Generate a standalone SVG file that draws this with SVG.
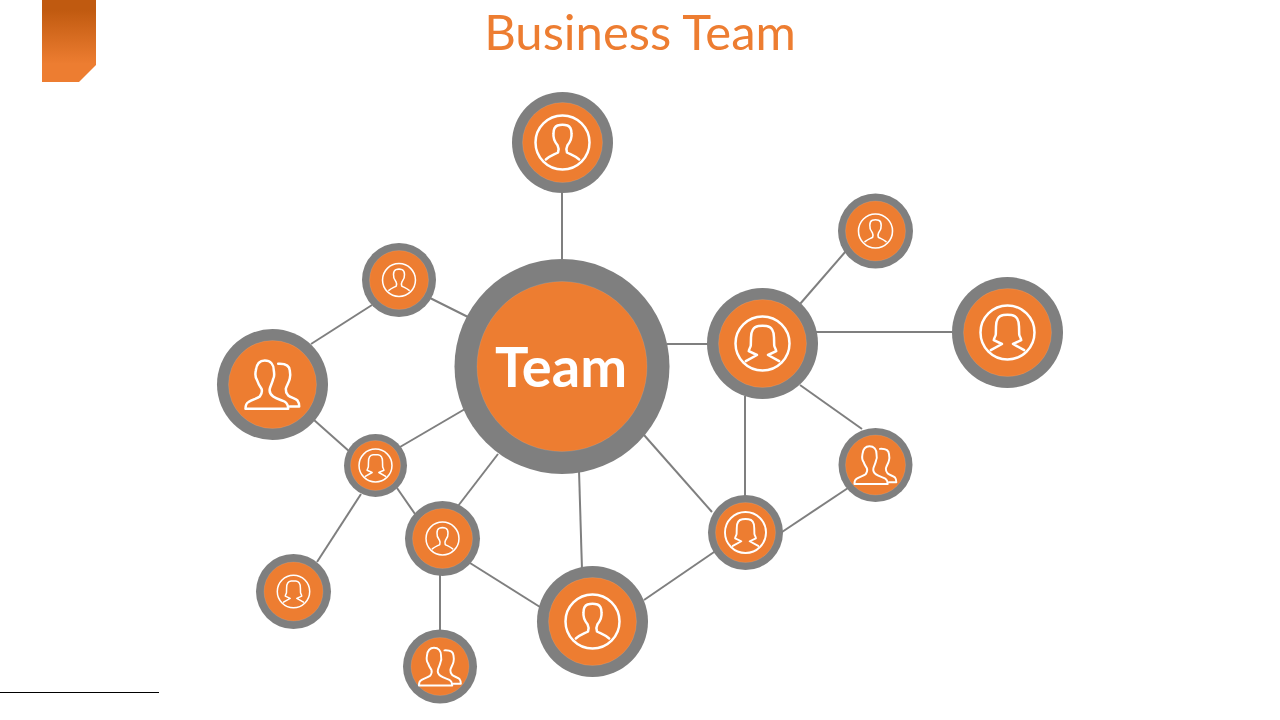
<svg xmlns="http://www.w3.org/2000/svg" width="1280" height="720" viewBox="0 0 1280 720">
<style>
.ring{fill:#7f7f7f}
.core{fill:#ed7d31;stroke:#fff;stroke-opacity:.2;stroke-width:.5}
.ic{fill:none;stroke:#fff;stroke-width:2.5;stroke-linejoin:round;stroke-linecap:round}
#connectors line{stroke:#7f7f7f;stroke-width:2}
text{font-family:"Lato","Noto Sans",sans-serif}
</style>
<defs>
<linearGradient id="rib" x1="0" y1="0" x2="0" y2="1"><stop offset="0.12" stop-color="#c05a10"/><stop offset="0.78" stop-color="#ed7d31"/></linearGradient>
<g id="male"><circle r="27"/><path d="M-16.7 17C-12 13-8 12-4.5 10C-3.5 7-3.8 5-5 2.7C-8 -1-9.5 -5-9 -9C-9 -14-7.5 -16-5 -17C-2 -18 2 -18 5 -17C7.5 -16 9 -14 9 -9C9.5 -5 8 -1 5 2.7C3.8 5 3.5 7 4.5 10C8 12 12 13 16.7 17"/></g>
<g id="female"><circle r="27"/><path d="M-16.7 17.7L-5.5 11.5L-13.7 7.7C-13.5 5-11.8 4-11.7 1.7L-11.5 -6C-11.5 -12-9 -17-4 -17.5C-2 -17.7 2 -17.7 4 -17.5C9 -17 11.5 -12 11.5 -6L11.7 1.7C11.8 4 13.5 5 13.7 7.7L5.5 11.5L16.7 17.7"/></g>
<g id="group"><path d="M-27 24.3C-27 20-26 18.5-24 17.5C-20 15-15 14-12.7 12C-10.5 9-10 7-11 4.3C-14 0-15 -3-15.3 -4C-17.5 -7-17.5 -10-16.7 -14C-16 -20-13 -24-7.7 -24C-2 -24 1.3 -20 1.3 -14C2 -10 1.5 -7 .7 -5.7C0 -2-2 1-2.7 4.3C-3.5 8-2 10 .7 12C4 14.5 9 15.5 12 17C14.5 18.5 15.7 20 15.7 24.3Z"/><path d="M5.7 -20.7C12 -21 17 -19 17.3 -14C18 -10 18 -8 17.3 -6C16.5 -2 14 1 13.3 4.3C13 7 14 9 15.7 11C18 13 23 14 25 16C26.5 18 26.7 20 26.7 22H17.3"/></g>
</defs>
<path d="M42 0H96V65L79 82H42Z" fill="url(#rib)"/>
<text x="640" y="50" font-size="49" fill="#ed7d31" text-anchor="middle">Business Team</text>
<line x1="0" y1="692.5" x2="159" y2="692.5" stroke="#000" stroke-width="1"/>
<g id="connectors">
<line x1="562" y1="190" x2="562" y2="262"/>
<line x1="430" y1="298" x2="468" y2="317"/>
<line x1="311" y1="344" x2="372" y2="305"/>
<line x1="314" y1="420" x2="350" y2="452"/>
<line x1="400" y1="447" x2="465" y2="409"/>
<line x1="397" y1="488" x2="415" y2="514"/>
<line x1="361" y1="494" x2="317" y2="562"/>
<line x1="458" y1="506" x2="498" y2="454"/>
<line x1="470" y1="563" x2="540" y2="607"/>
<line x1="440" y1="575" x2="440" y2="632"/>
<line x1="579" y1="470" x2="582" y2="570"/>
<line x1="644" y1="435" x2="712" y2="512"/>
<line x1="644" y1="600" x2="717" y2="550"/>
<line x1="667" y1="344" x2="708" y2="344"/>
<line x1="745" y1="396" x2="745" y2="497"/>
<line x1="800" y1="304" x2="846" y2="251"/>
<line x1="815" y1="332" x2="952" y2="332"/>
<line x1="800" y1="385" x2="862" y2="429"/>
<line x1="782" y1="532" x2="848" y2="488"/>
</g>
<g id="n-center"><circle class="ring" cx="562" cy="366.5" r="107.5"/><circle class="core" cx="562" cy="366.5" r="85"/><text x="561" y="387" font-size="56" font-weight="700" fill="#fff" text-anchor="middle">Team</text></g>
<g id="n-top"><circle class="ring" cx="562.5" cy="142.5" r="50.5"/><circle class="core" cx="562.5" cy="142.5" r="40"/><use href="#male" class="ic" transform="translate(562.5 142.5)"/></g>
<g id="n-r1"><circle class="ring" cx="762.5" cy="343.5" r="55.5"/><circle class="core" cx="762.5" cy="343.5" r="44"/><use href="#female" class="ic" transform="translate(762.5 343.5)"/></g>
<g id="n-r2"><circle class="ring" cx="1007.5" cy="332.5" r="55.5"/><circle class="core" cx="1007.5" cy="332.5" r="44"/><use href="#female" class="ic" transform="translate(1007.5 332.5)"/></g>
<g id="n-r3"><circle class="ring" cx="875.5" cy="231" r="37.5"/><circle class="core" cx="875.5" cy="231" r="30"/><use href="#male" class="ic" transform="translate(875.5 231) scale(.63)"/></g>
<g id="n-r4"><circle class="ring" cx="875.5" cy="465" r="37"/><circle class="core" cx="875.5" cy="465" r="30"/><use href="#group" class="ic" transform="translate(875.5 465) scale(.78)"/></g>
<g id="n-r5"><circle class="ring" cx="745.5" cy="532.5" r="37.5"/><circle class="core" cx="745.5" cy="532.5" r="30"/><use href="#female" class="ic" transform="translate(745.5 532.5) scale(.76)"/></g>
<g id="n-b1"><circle class="ring" cx="592.5" cy="621.5" r="55.5"/><circle class="core" cx="592.5" cy="621.5" r="44"/><use href="#male" class="ic" transform="translate(592.5 621.5)"/></g>
<g id="n-b2"><circle class="ring" cx="442.5" cy="538.5" r="37.5"/><circle class="core" cx="442.5" cy="538.5" r="30"/><use href="#male" class="ic" transform="translate(442.5 538.5) scale(.61)"/></g>
<g id="n-b3"><circle class="ring" cx="375.5" cy="465.5" r="31.5"/><circle class="core" cx="375.5" cy="465.5" r="25"/><use href="#female" class="ic" transform="translate(375.5 465.5) scale(.61)"/></g>
<g id="n-b4"><circle class="ring" cx="293.5" cy="591.5" r="37.5"/><circle class="core" cx="293.5" cy="591.5" r="29.5"/><use href="#female" class="ic" transform="translate(293.5 591.5) scale(.6)"/></g>
<g id="n-b5"><circle class="ring" cx="440" cy="666.5" r="37"/><circle class="core" cx="440" cy="666.5" r="29"/><use href="#group" class="ic" transform="translate(440 666.5) scale(.78)"/></g>
<g id="n-l1"><circle class="ring" cx="272.5" cy="384.5" r="55.5"/><circle class="core" cx="272.5" cy="384.5" r="44"/><use href="#group" class="ic" transform="translate(272.5 384.5)"/></g>
<g id="n-l2"><circle class="ring" cx="399" cy="280" r="37"/><circle class="core" cx="399" cy="280" r="29.5"/><use href="#male" class="ic" transform="translate(399 280) scale(.61)"/></g>
</svg>
